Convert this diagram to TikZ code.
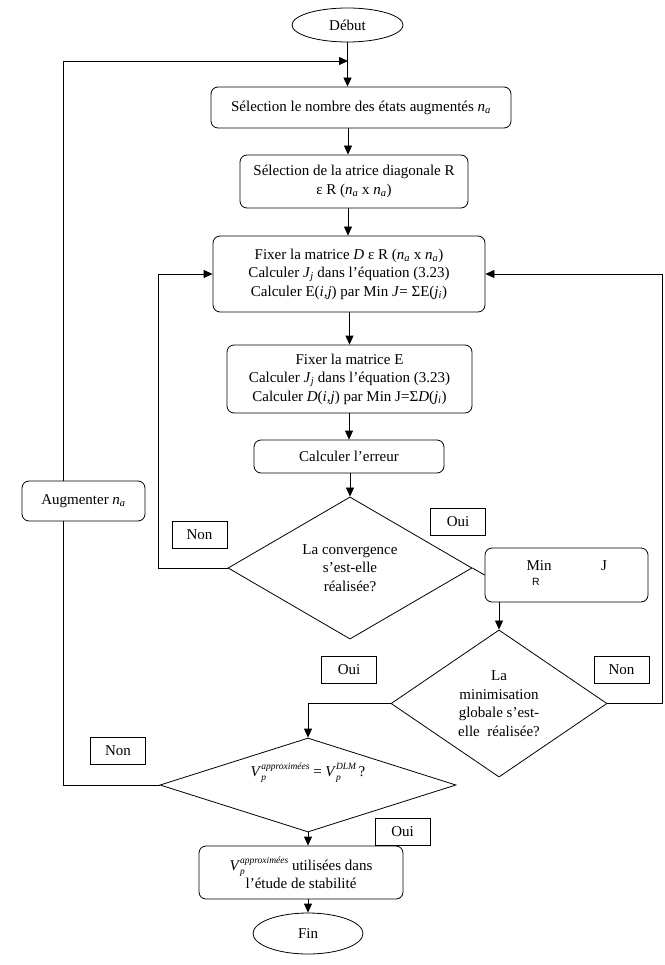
\documentclass[tikz,border=0pt]{standalone}
\usepackage{fontspec}
\setmainfont{Liberation Serif}
\newfontfamily\sansR{Liberation Sans}
\usetikzlibrary{shapes.geometric,arrows.meta}
\newcommand\nA{\textit{n}\textsubscript{\textit{a}}}
\newcommand\subsupx[2]{{\fontsize{9.5}{11}\selectfont\itshape\raisebox{-4.5pt}{\begin{tabular}[b]{@{}l@{}}#2\\#1\end{tabular}}}}
\newcommand\Vapprox{\textit{V}\subsupx{p}{approximées}}
\begin{document}
\begin{tikzpicture}[x=1pt,y=-1pt,
  every node/.style={font=\fontsize{15}{18.5}\selectfont},
  line/.style={draw,line width=0.8pt},
  arr/.style={line,-{Triangle[length=9pt,width=8pt]}},
  rbox/.style={draw,line width=0.8pt,rounded corners=7pt,align=center,inner sep=0pt},
  lbl/.style={draw,line width=0.8pt,inner sep=0pt,minimum width=55pt,minimum height=27pt},
  term/.style={draw,line width=0.8pt,ellipse,inner sep=0pt},
  dia/.style={draw,line width=0.8pt,diamond,inner sep=0pt,align=center}]
\useasboundingbox (0,0) rectangle (664,965);
% terminals
\node[term,minimum width=111pt,minimum height=34pt] (debut) at (347.5,25) {Début};
\node[term,minimum width=110pt,minimum height=41pt] (fin) at (308,933.5) {Fin};
% boxes
\node[rbox,minimum width=300pt,minimum height=41pt] (b1) at (361,107.5) {Sélection le nombre des états augmentés \nA};
\node[rbox,minimum width=228pt,minimum height=53pt] (b2) at (354,181.5) {Sélection de la atrice diagonale R\\ ε R (\nA{} x \nA)};
\node[rbox,minimum width=272pt,minimum height=76pt] (b3) at (349,274) {Fixer la matrice \textit{D} ε R (\nA{} x \nA)\\ Calculer \textit{J}\textsubscript{\textit{j}} dans l’équation (3.23)\\ Calculer E(\textit{i,j}) par Min \textit{J}= ΣE(\textit{j}\textsubscript{\textit{i}})};
\node[rbox,minimum width=245pt,minimum height=68pt] (b4) at (349.5,379) {Fixer la matrice E\\ Calculer \textit{J}\textsubscript{\textit{j}} dans l’équation (3.23)\\ Calculer \textit{D}(\textit{i,j}) par Min J=Σ\textit{D}(\textit{j}\textsubscript{\textit{i}})};
\node[rbox,minimum width=190pt,minimum height=33pt] (b5) at (349,456.5) {Calculer l’erreur};
\node[rbox,minimum width=123pt,minimum height=40pt] (aug) at (83.5,501) {Augmenter \nA};
\node[rbox,minimum width=163pt,minimum height=54pt] (minj) at (566.5,575) {};
\node (minjMin) at (539,566) {Min};
\node (minjJ) at (604,566) {J};
\node[font=\sansR\fontsize{10.5}{12}\selectfont] (minjR) at (536,582) {R};
\node[rbox,minimum width=204pt,minimum height=53pt] (fbox) at (301,872.5) {\Vapprox{} utilisées dans\\ l’étude de stabilité};
% diamonds
\node[dia,minimum width=244pt,minimum height=122pt] (d1) at (350,568) {La convergence\\ s’est-elle\\ réalisée?};
\node[dia,minimum width=216pt,minimum height=147pt] (d2) at (499,703.5) {La\\ minimisation\\ globale s’est-\\ elle~ réalisée?};
\node[dia,minimum width=296pt,minimum height=94pt] (d3) at (308,785) {};
\node (d3txt) at (308,773) {\Vapprox{} = \textit{V}\subsupx{p}{DLM}\,?};
% labels
\node[lbl] (non1) at (199.5,534.5) {Non};
\node[lbl] (oui1) at (458,521.5) {Oui};
\node[lbl] (non2) at (621.5,669.5) {Non};
\node[lbl] (oui2) at (349,669.5) {Oui};
\node[lbl] (non3) at (118,751) {Non};
\node[lbl] (oui3) at (402.5,831.5) {Oui};
% helper coordinates
\coordinate (J0) at (348,61);
\coordinate (L0) at (63,61);
\coordinate (augT) at (63,481);
\coordinate (augB) at (63,521);
\coordinate (Lc) at (158,568);
\coordinate (Rc) at (662,703.5);
% main axis
\draw[arr] (debut.south) -- (debut.south |- b1.north);
\draw[arr] (L0) -- (J0);
\draw[arr] (b1.south -| J0) -- (b2.north -| J0);
\draw[arr] (b2.south -| J0) -- (b2.south |- b3.north -| J0);
\draw[arr] (b3.south -| b4.north) -- (b4.north);
\draw[arr] (b4.south -| b5.north) -- (b5.north);
\draw[arr] (b5.south -| d1.north) -- (d1.north);
% convergence loop
\draw[arr] (d1.west) -- (Lc) |- (b3.west);
\draw[line] (d1.east) -- (minj.west);
\draw[arr] (d2.north |- minj.south) -- (d2.north);
\draw[arr] (d2.east) -- (Rc) |- (b3.east);
\draw[arr] (d2.west) -| (d3.north);
% outer loop
\draw[line] (d3.west) -| (augB);
\draw[line] (augT) -- (L0);
% end
\draw[arr] (d3.south) -- (d3.south |- fbox.north);
\draw[arr] (fbox.south -| fin.north) -- (fin.north);
\end{tikzpicture}
\end{document}
